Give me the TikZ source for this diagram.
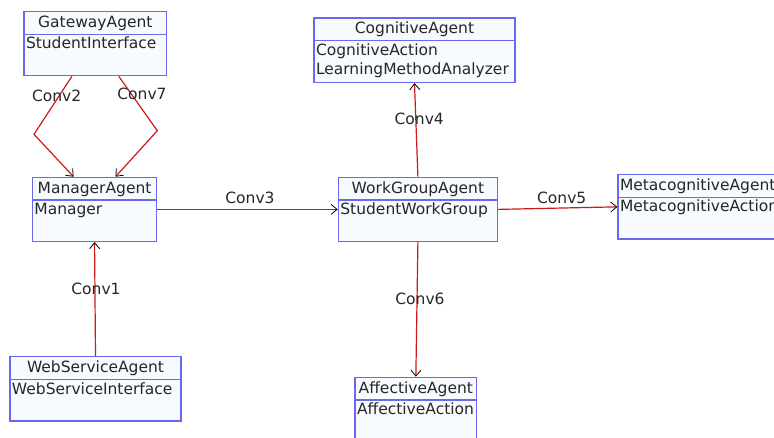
\documentclass[tikz,border=0pt]{standalone}
\usepackage{fontspec}
\setmainfont{DejaVu Sans}
\usetikzlibrary{arrows.meta}
\definecolor{boxblue}{RGB}{105,105,240}
\definecolor{boxfill}{RGB}{247,250,255}
\definecolor{linkred}{RGB}{205,25,25}
\tikzset{
  agent/.style={draw=boxblue, fill=boxfill, line width=1.4pt, inner sep=0pt, anchor=north west},
  divider/.style={draw=boxblue, line width=1.4pt},
  hdr/.style={anchor=base, inner sep=0pt, text=black!85},
  bodytxt/.style={anchor=base west, inner sep=0pt, text=black!85},
  conn/.style={draw=linkred, line width=1.2pt, -{Straight Barb[length=6pt,width=10pt,color=black,line width=0.8pt]}},
  convlabel/.style={inner sep=0pt, text=black!85}
}
\newcommand{\AgentBox}[7]{%
  \node[agent, minimum width=#4pt, minimum height=#5pt] (#1) at (#2,#3) {};
  \draw[divider] ([yshift=-23.3pt]#1.north west) -- ([yshift=-23.3pt]#1.north east);
  \node[hdr] at ([yshift=-16.5pt]#1.north) {#6};
  \node[bodytxt] at ([xshift=2.5pt,yshift=-38pt]#1.north west) {#7};
}
\begin{document}
\begin{tikzpicture}[x=1pt,y=-1pt]
\fontsize{15.5}{19.5}\selectfont
\useasboundingbox (0,0) rectangle (774,438);
\clip (0,0) rectangle (774,438);
\AgentBox{gw}{23.3}{11}{142.7}{64}{GatewayAgent}{StudentInterface}
\AgentBox{mgr}{31.7}{176.7}{124.3}{64}{ManagerAgent}{Manager}
\AgentBox{cog}{313.3}{17.3}{201}{64.4}{CognitiveAgent}{CognitiveAction}
\node[bodytxt] at ([xshift=2.5pt,yshift=-57.3pt]cog.north west) {LearningMethodAnalyzer};
\AgentBox{wg}{337.7}{176.7}{159}{64}{WorkGroupAgent}{StudentWorkGroup}
\AgentBox{ws}{9.3}{356}{171}{64.3}{WebServiceAgent}{WebServiceInterface}
\AgentBox{aff}{354.3}{376.7}{121.7}{64}{AffectiveAgent}{AffectiveAction}
% Metacognitive box (extends past the right edge, as in the reference)
\node[agent, minimum width=160pt, minimum height=64.3pt] (meta) at (617.3,174) {};
\draw[divider] ([yshift=-23.3pt]meta.north west) -- ([yshift=-23.3pt]meta.north east);
\node[bodytxt] at ([xshift=2.5pt,yshift=-16.5pt]meta.north west) {MetacognitiveAgent};
\node[bodytxt] at ([xshift=2.5pt,yshift=-38pt]meta.north west) {MetacognitiveAction};
% bend points
\coordinate (b2) at (34,134.3);
\coordinate (b7) at (157.3,130.7);
% connectors
\draw[conn] ([xshift=-23.5pt]gw.south) -- (b2) -- ([xshift=-21pt]mgr.north);
\draw[conn] ([xshift=23.5pt]gw.south) -- (b7) -- ([xshift=21pt]mgr.north);
\draw[conn] (mgr.east) -- (wg.west);
\draw[conn] (wg.north) -- (cog.south);
\draw[conn] (wg.east) -- (meta.west);
\draw[conn] (ws.north) -- (mgr.south);
\draw[conn] (wg.south) -- (aff.north);
% labels
\node[convlabel] (l2) at (56.7,95.7) {Conv2};
\node[convlabel] (l7) at (142,94) {Conv7};
\node[convlabel] (l3) at (250,198) {Conv3};
\node[convlabel] (l4) at (419.2,119) {Conv4};
\node[convlabel] (l5) at (561.7,197.7) {Conv5};
\node[convlabel] (l1) at (96,289) {Conv1};
\node[convlabel] (l6) at (420,299) {Conv6};
\end{tikzpicture}
\end{document}
